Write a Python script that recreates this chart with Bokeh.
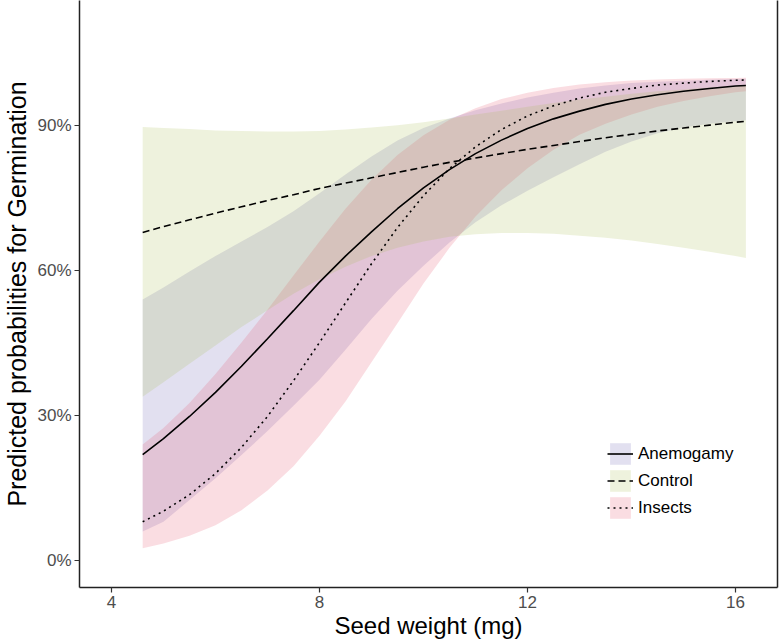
from bokeh.plotting import figure
from bokeh.models import Range1d, FixedTicker, LinearAxis, Legend, LegendItem
from bokeh.embed import file_html
from bokeh.resources import INLINE

# ---- data ----
seed_weight = [4.6, 5.0, 5.5, 6.0, 6.5, 7.0, 7.5, 8.0, 8.5, 9.0, 9.5, 10.0, 10.5,
               11.0, 11.5, 12.0, 12.5, 13.0, 13.5, 14.0, 14.5, 15.0, 15.5, 16.0, 16.2]

anemogamy_fit = [0.219, 0.252, 0.298, 0.348, 0.402, 0.459, 0.517, 0.576, 0.630, 0.680, 0.728, 0.771, 0.809,
                 0.842, 0.870, 0.894, 0.914, 0.930, 0.944, 0.955, 0.964, 0.971, 0.977, 0.982, 0.983]
anemogamy_low = [0.060, 0.080, 0.125, 0.170, 0.218, 0.268, 0.320, 0.374, 0.436, 0.500, 0.558, 0.610, 0.658,
                 0.700, 0.735, 0.765, 0.793, 0.820, 0.846, 0.867, 0.884, 0.896, 0.904, 0.909, 0.911]
anemogamy_high = [0.540, 0.565, 0.598, 0.630, 0.660, 0.690, 0.723, 0.760, 0.799, 0.836, 0.869, 0.895, 0.915,
                  0.932, 0.946, 0.958, 0.968, 0.977, 0.983, 0.988, 0.991, 0.993, 0.995, 0.9965, 0.997]

control_fit = [0.679, 0.691, 0.705, 0.719, 0.732, 0.745, 0.757, 0.770, 0.781, 0.792, 0.803, 0.814, 0.824,
               0.833, 0.842, 0.851, 0.859, 0.867, 0.875, 0.882, 0.889, 0.895, 0.901, 0.907, 0.909]
control_low = [0.339, 0.369, 0.407, 0.445, 0.483, 0.518, 0.552, 0.582, 0.608, 0.630, 0.647, 0.660, 0.670,
               0.675, 0.678, 0.678, 0.676, 0.672, 0.668, 0.662, 0.655, 0.647, 0.639, 0.630, 0.626]
control_high = [0.897, 0.895, 0.893, 0.890, 0.889, 0.888, 0.888, 0.889, 0.892, 0.896, 0.901, 0.907, 0.915,
                0.923, 0.931, 0.939, 0.947, 0.954, 0.960, 0.966, 0.971, 0.975, 0.979, 0.982, 0.984]

insects_fit = [0.080, 0.102, 0.136, 0.180, 0.234, 0.298, 0.372, 0.451, 0.533, 0.614, 0.689, 0.755, 0.811,
               0.856, 0.892, 0.920, 0.941, 0.957, 0.969, 0.977, 0.984, 0.988, 0.9915, 0.9938, 0.9946]
insects_low = [0.025, 0.035, 0.051, 0.073, 0.104, 0.145, 0.195, 0.258, 0.329, 0.410, 0.491, 0.573, 0.647,
               0.712, 0.766, 0.812, 0.850, 0.881, 0.904, 0.923, 0.939, 0.951, 0.961, 0.969, 0.971]
insects_high = [0.240, 0.274, 0.326, 0.386, 0.451, 0.519, 0.590, 0.660, 0.728, 0.788, 0.839, 0.880, 0.912,
                0.936, 0.955, 0.968, 0.978, 0.985, 0.990, 0.9936, 0.9957, 0.9972, 0.9982, 0.9988, 0.999]

group_names = ["Anemogamy", "Control", "Insects"]
x_ticks = [4, 8, 12, 16]
y_ticks = [0.0, 0.3, 0.6, 0.9]
y_tick_labels = ["0%", "30%", "60%", "90%"]

# ---- styling ----
band_colors = ["#6E64B4", "#AABE55", "#E6556E"]
band_alpha = 0.2
line_dashes = ["solid", "7 4", "2 4"]
band_draw_order = [0, 2, 1]
FONT = "Liberation Sans"

p = figure(width=780, height=641, output_backend="svg", toolbar_location=None,
           x_range=Range1d(3.385, 16.808), y_range=Range1d(-0.056, 1.159),
           min_border_left=79, min_border_right=3, min_border_top=0, min_border_bottom=54)
p.background_fill_color = "white"
p.border_fill_color = "white"
p.outline_line_color = None
p.xgrid.visible = False
p.ygrid.visible = False

fits = [anemogamy_fit, control_fit, insects_fit]
lows = [anemogamy_low, control_low, insects_low]
highs = [anemogamy_high, control_high, insects_high]

bands = {}
for i in band_draw_order:
    bands[i] = p.varea(x=seed_weight, y1=lows[i], y2=highs[i],
                       fill_color=band_colors[i], fill_alpha=band_alpha)
lines = {}
for i in range(3):
    lines[i] = p.line(x=seed_weight, y=fits[i], line_color="black", line_width=1.6,
                      line_dash=line_dashes[i])

items = [LegendItem(label=group_names[i], renderers=[bands[i], lines[i]]) for i in range(3)]

legend = Legend(items=items, location=(528, 66), orientation="vertical",
                glyph_width=26, glyph_height=27, label_height=27, spacing=0,
                padding=0, margin=0, label_standoff=5,
                label_text_font=FONT, label_text_font_size="17px", label_text_color="black",
                border_line_color=None, background_fill_alpha=0)
p.add_layout(legend, "center")

for ax in (p.xaxis[0], p.yaxis[0]):
    ax.axis_line_color = "#222222"
    ax.axis_line_width = 1.5
    ax.major_tick_line_color = "#333333"
    ax.major_tick_line_width = 1.2
    ax.major_tick_out = 5
    ax.major_tick_in = 0
    ax.minor_tick_line_color = None
    ax.major_label_text_font = FONT
    ax.major_label_text_font_size = "17px"
    ax.major_label_text_color = "#4D4D4D"
    ax.axis_label_text_font = FONT
    ax.axis_label_text_font_style = "normal"
    ax.axis_label_text_color = "black"

p.xaxis[0].axis_label_text_font_size = "24px"
p.yaxis[0].axis_label_text_font_size = "25px"
p.xaxis[0].major_label_standoff = 3
p.xaxis[0].axis_label_standoff = 1
p.yaxis[0].major_label_standoff = 3
p.yaxis[0].axis_label_standoff = 3

p.xaxis[0].ticker = FixedTicker(ticks=x_ticks)
p.yaxis[0].ticker = FixedTicker(ticks=y_ticks)
p.yaxis[0].major_label_overrides = {t: s for t, s in zip(y_ticks, y_tick_labels)}
p.xaxis[0].axis_label = "Seed weight (mg)"
p.yaxis[0].axis_label = "Predicted probabilities for Germination"

right_axis = LinearAxis(ticker=FixedTicker(ticks=[]), axis_line_color="#222222", axis_line_width=1.5,
                        major_tick_line_color=None, minor_tick_line_color=None,
                        major_tick_out=0, major_tick_in=0, major_label_standoff=0,
                        axis_label_standoff=0, major_label_text_font_size="0px")
p.add_layout(right_axis, "right")

open("out.html", "w").write(file_html(p, INLINE))
